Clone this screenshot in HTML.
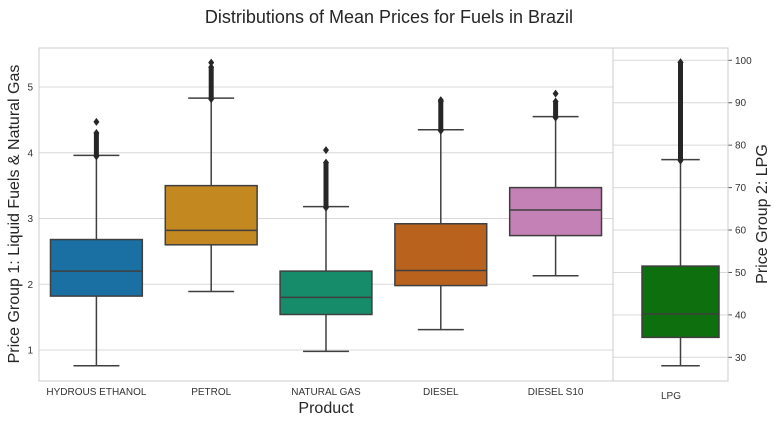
<!DOCTYPE html>
<html><head><meta charset="utf-8"><style>
body{margin:0;background:#fff;font-family:"Liberation Sans",Arial,sans-serif}
</style></head><body>
<svg id="c" width="778" height="423" xmlns="http://www.w3.org/2000/svg" font-family="Liberation Sans, Arial, sans-serif"></svg>
<script>
const categories=["HYDROUS ETHANOL","PETROL","NATURAL GAS","DIESEL","DIESEL S10"];
const whiskerLow=[0.76,1.89,0.98,1.31,2.13];
const q1=[1.82,2.60,1.54,1.98,2.74];
const median=[2.20,2.82,1.80,2.21,3.13];
const q3=[2.68,3.50,2.20,2.92,3.47];
const whiskerHigh=[3.96,4.83,3.18,4.35,4.55];
const outlierDenseTop=[4.30,5.30,3.85,4.78,4.78];
const outlierMax=[4.47,5.37,4.04,4.80,4.90];
const leftTicks=[1,2,3,4,5];
const lpgCategory=["LPG"];
const lpgLow=[28.0],lpgQ1=[34.7],lpgMed=[40.2],lpgQ3=[51.5],lpgHigh=[76.6],lpgOutTop=[99.5];
const rightTicks=[30,40,50,60,70,80,90,100];
const colors=["#1a6fa3","#c38820","#168c6a","#b8621e","#c481b6"];

const svg=document.getElementById('c');
const NS="http://www.w3.org/2000/svg";
function mk(t,a,p){const e=document.createElementNS(NS,t);for(const k in a)e.setAttribute(k,a[k]);(p||svg).appendChild(e);return e;}
const L={x0:39,x1:613,y0:48,y1:381};
const R={x0:613,x1:728};
const yL=v=>415.75-65.75*v;
const yR=v=>60.3+(100-v)*4.243;
const band=(L.x1-L.x0)/categories.length;
const xL=i=>L.x0+band*(i+0.5);

// gridlines
leftTicks.forEach(t=>{const g=mk('line',{x1:L.x0,x2:L.x1,y1:yL(t),y2:yL(t),stroke:'#d9d9d9','stroke-width':1});

const tx=mk('text',{x:L.x0-6,y:yL(t)+3.5,'text-anchor':'end','font-size':10,fill:'#333'});tx.textContent=t;
});
rightTicks.forEach(t=>{const g=mk('line',{x1:R.x0,x2:R.x1,y1:yR(t),y2:yR(t),stroke:'#d9d9d9','stroke-width':1});

mk('line',{x1:R.x1,x2:R.x1+4,y1:yR(t),y2:yR(t),stroke:'#555','stroke-width':1});
const tx=mk('text',{x:R.x1+7,y:yR(t)+3.5,'font-size':10,fill:'#333'});tx.textContent=t;
});

function box(cx,w,lo,a,m,b,hi,ot,om,fill,y,name){
  const g=mk('g',{});
  
  const st={stroke:'#3f3f3f','stroke-width':1.5};
  mk('line',Object.assign({x1:cx,x2:cx,y1:y(lo),y2:y(a)},st),g);
  mk('line',Object.assign({x1:cx,x2:cx,y1:y(b),y2:y(hi)},st),g);
  mk('line',Object.assign({x1:cx-w/4,x2:cx+w/4,y1:y(lo),y2:y(lo)},st),g);
  mk('line',Object.assign({x1:cx-w/4,x2:cx+w/4,y1:y(hi),y2:y(hi)},st),g);
  mk('rect',Object.assign({x:cx-w/2,y:y(b),width:w,height:y(a)-y(b),fill:fill},st),g);
  mk('line',Object.assign({x1:cx-w/2,x2:cx+w/2,y1:y(m),y2:y(m)},st),g);
  mk('line',{x1:cx,x2:cx,y1:y(hi),y2:y(ot),stroke:'#262626','stroke-width':5},g);
  const d=(yy)=>mk('path',{d:`M${cx},${yy-4}L${cx+3},${yy}L${cx},${yy+4}L${cx-3},${yy}Z`,fill:'#262626'},g);
  d(y(ot));d(y(om));d(y(hi)+1);
}
categories.forEach((c,i)=>{
  box(xL(i),band*0.8,whiskerLow[i],q1[i],median[i],q3[i],whiskerHigh[i],outlierDenseTop[i],outlierMax[i],colors[i],yL,'box-'+c.toLowerCase().replace(/ /g,'-'));
  const t=mk('text',{x:xL(i),y:395,'text-anchor':'middle','font-size':10,fill:'#333'});t.textContent=c;
  
});
box(680.5,77,lpgLow[0],lpgQ1[0],lpgMed[0],lpgQ3[0],lpgHigh[0],lpgOutTop[0],lpgOutTop[0],'#0e6f0e',yR,'box-lpg');
const lt=mk('text',{x:671,y:399,'text-anchor':'middle','font-size':10,fill:'#333'});lt.textContent=lpgCategory[0];


// spines
mk('rect',{x:L.x0,y:L.y0,width:L.x1-L.x0,height:L.y1-L.y0,fill:'none',stroke:'#cccccc','stroke-width':1});
mk('rect',{x:R.x0,y:L.y0,width:R.x1-R.x0,height:L.y1-L.y0,fill:'none',stroke:'#cccccc','stroke-width':1});

const title=mk('text',{x:389,y:23,'text-anchor':'middle','font-size':18,fill:'#262626'});title.textContent='Distributions of Mean Prices for Fuels in Brazil';

const xl=mk('text',{x:326,y:413,'text-anchor':'middle','font-size':16,fill:'#262626'});xl.textContent='Product';

const yl=mk('text',{x:0,y:0,'text-anchor':'middle','font-size':16,fill:'#262626',transform:'translate(19,214) rotate(-90)'});yl.textContent='Price Group 1: Liquid Fuels & Natural Gas';

const yr=mk('text',{x:0,y:0,'text-anchor':'middle','font-size':16,fill:'#262626',transform:'translate(767,214) rotate(-90)'});yr.textContent='Price Group 2: LPG';

</script>
</body></html>
